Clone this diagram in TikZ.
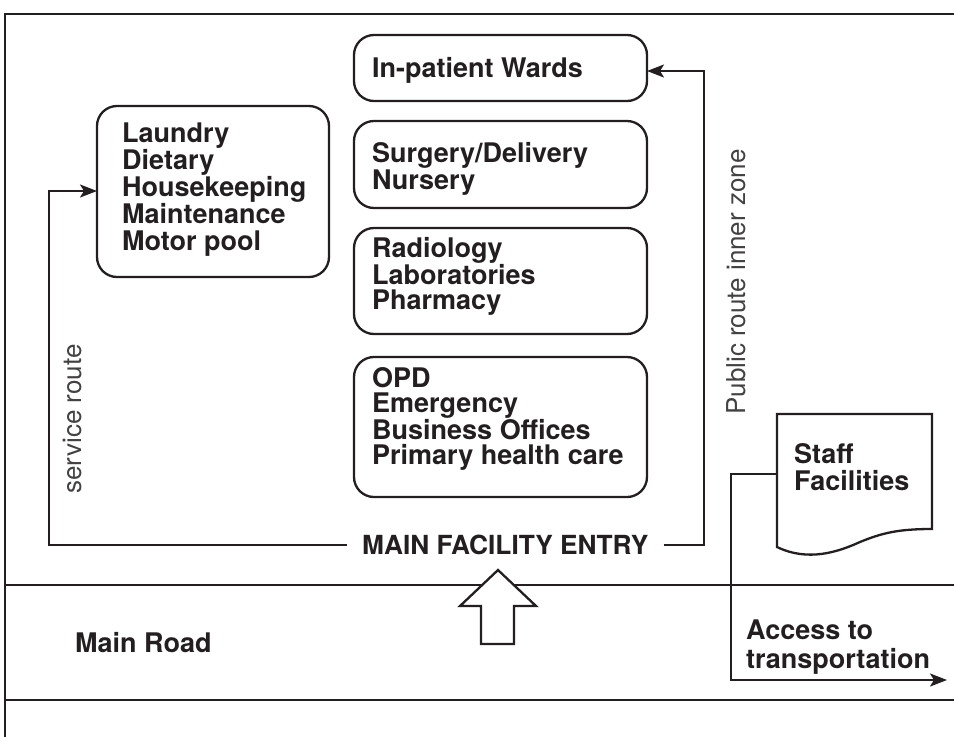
\documentclass[tikz,border=0pt]{standalone}
\usepackage{fontspec}
\setmainfont{TeX Gyre Heros}
\usetikzlibrary{arrows.meta}
\definecolor{ink}{HTML}{231F20}
\begin{document}
\begin{tikzpicture}[x=1pt,y=-1pt,
  wire/.style={draw=ink, line width=2.3pt},
  room/.style={draw=ink, line width=2.3pt, rounded corners=20pt, anchor=north west,
    inner sep=0pt, outer sep=0pt},
  boldtxt/.style={anchor=north west, inner sep=0pt, align=left, text=ink,
    font=\bfseries\fontsize{27}{26}\selectfont},
  lead/.style={font=\bfseries\fontsize{27}{#1}\selectfont},
  thintxt/.style={text=ink!85, font=\fontsize{26}{28}\selectfont, rotate=90, inner sep=0pt},
  tip/.style={-{Stealth[length=17pt,width=13pt,inset=4pt]}}
]
\useasboundingbox (0,0) rectangle (954,737);

% site frame and road edges
\draw[wire] (954,14) -- (5,14) -- (5,737);
\draw[wire] (5,585) -- (954,585);
\draw[wire] (5,700) -- (954,700);

% hospital blocks
\node[room, minimum width=293pt, minimum height=66pt]  (inpat)   at (354,35)  {};
\node[room, minimum width=293pt, minimum height=87pt]  (surg)    at (354,121) {};
\node[room, minimum width=293pt, minimum height=106pt] (radio)   at (354,228) {};
\node[room, minimum width=293pt, minimum height=140pt] (opd)     at (354,357) {};
\node[room, minimum width=232pt, minimum height=171pt] (laundry) at (97,106)  {};

\node[boldtxt] (inpattxt)   at (372,57)  {In-patient Wards};
\node[boldtxt, lead=27] (surgtxt) at (372,142) {Surgery/Delivery\\Nursery};
\node[boldtxt, lead=25.5] (radiotxt) at (372,237) {Radiology\\Laboratories\\Pharmacy};
\node[boldtxt, lead=25] (opdtxt) at (372,367) {OPD\\Emergency\\Business Offices\\Primary health care};
\node[boldtxt, lead=27] (laundrytxt) at (122,123) {Laundry\\Dietary\\Housekeeping\\Maintenance\\Motor pool};

% entry label and routes
\node[boldtxt, inner xsep=15pt, font=\bfseries\fontsize{26.3}{26}\selectfont] (entry) at (347,535) {MAIN FACILITY ENTRY};
\coordinate (svc) at (49,191);
\coordinate (pub) at (704,71);
\draw[wire, tip] (entry.west) -| (svc) -- (laundry.west |- svc);
\draw[wire, tip] (entry.east) -| (pub) -- (inpat.east |- pub);

\node[thintxt] (svclabel) at (73,419) {service route};
\node[thintxt] (publabel) at (736,282) {Public route inner zone};

% entry arrow from the road
\draw[wire, fill=white, line join=miter]
  (498,570) -- (536,606) -- (514,606) -- (514,644) -- (481,644) -- (481,606) -- (460,606) -- cycle;

\node[boldtxt] (road) at (75,632) {Main Road};

% staff facilities document
\draw[wire, fill=white, line join=miter]
  (777,414) -- (932,414) -- (932,529)
  .. controls (898,529) and (882,533) .. (860,542)
  .. controls (838,552) and (808,562) .. (777,547) -- cycle;
\node[boldtxt, lead=27] (staff) at (794,443) {Staff\\Facilities};

\coordinate (staffw) at (777,474);
\coordinate (acc) at (731,680);
\coordinate (accend) at (947,680);
\draw[wire, tip] (staffw) -| (acc) -- (accend);
\node[boldtxt, lead=29] (access) at (746,620) {Access to\\transportation};
\end{tikzpicture}
\end{document}
